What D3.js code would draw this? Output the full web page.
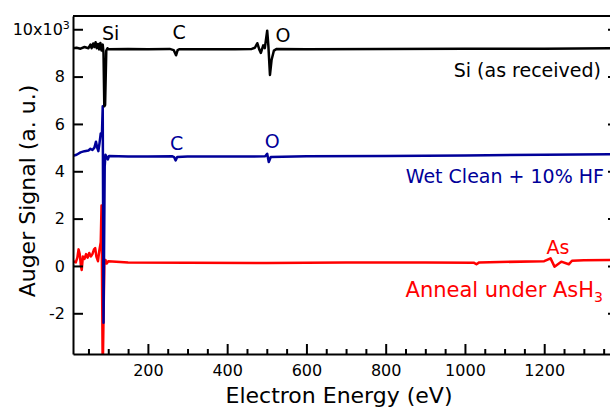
<!DOCTYPE html>
<html>
<head>
<meta charset="utf-8">
<script src="https://cdn.jsdelivr.net/npm/d3@7"></script>
<style>
  body { margin: 0; background: #fff; }
  svg { display: block; font-family: "DejaVu Sans", sans-serif; }
  .axis path, .axis line { stroke: #000; stroke-width: 2; }
  .axis text { font-size: 16px; fill: #000; font-family: "DejaVu Sans", sans-serif; }
</style>
</head>
<body>
<div id="chart"></div>
<script>
// spectra: [energy (eV), signal (x10^3)]
let siReceived = [
    [11, 9.2], [20, 9.22], [30, 9.18], [40, 9.25], [50, 9.2], [55, 9.35], [58, 9.2], [62, 9.4],
    [65, 9.25], [68, 9.45], [71, 9.2], [74, 9.38], [77, 9.15], [80, 9.42], [83, 9.1], [86, 9.35],
    [88, 9.0], [90, 6.75], [92, 6.8], [95, 9.1], [98, 9.2], [100, 9.15], [150, 9.17], [200, 9.15],
    [255, 9.17], [265, 9.12], [271, 8.9], [275, 9.12], [280, 9.16], [350, 9.15], [420, 9.16],
    [462, 9.17], [470, 9.22], [476, 9.41], [481, 9.15], [485, 9.0], [491, 9.32], [495, 9.2],
    [501, 9.94], [504, 9.3], [508, 8.07], [512, 8.7], [518, 9.1], [525, 9.17], [600, 9.16],
    [800, 9.17], [1000, 9.18], [1200, 9.18], [1366, 9.2]
];
let wetClean = [
    [11, 4.65], [20, 4.7], [30, 4.8], [40, 4.85], [50, 4.88], [55, 4.95], [60, 4.9], [65, 5.0],
    [69, 5.25], [72, 5.0], [75, 4.85], [78, 5.2], [81, 5.6], [84, 5.55], [86, 6.75], [88, -2.4],
    [91, 4.2], [93, 4.7], [96, 4.6], [99, 4.5], [102, 4.65], [150, 4.62], [200, 4.62], [262, 4.63],
    [266, 4.6], [270, 4.46], [274, 4.6], [300, 4.62], [400, 4.62], [496, 4.63], [501, 4.74],
    [505, 4.39], [510, 4.6], [600, 4.63], [800, 4.65], [1000, 4.67], [1200, 4.7], [1366, 4.72]
];
let annealAsH3 = [
    [11, 0.2], [18, 0.15], [22, 0.35], [25, 0.7], [28, 0.5], [31, 0.0], [33, -0.17], [36, 0.4],
    [40, 0.3], [44, 0.5], [48, 0.35], [52, 0.55], [56, 0.4], [60, 0.5], [64, 0.7], [67, 0.75],
    [70, 0.4], [74, 0.2], [77, 0.6], [81, 1.0], [83, 2.55], [86, -4.5], [90, 0.05], [93, 0.25],
    [96, 0.1], [100, 0.2], [150, 0.15], [300, 0.13], [500, 0.12], [700, 0.15], [900, 0.15],
    [1022, 0.14], [1029, 0.07], [1036, 0.15], [1200, 0.2], [1216, 0.32], [1226, -0.03],
    [1243, 0.18], [1262, 0.07], [1270, 0.22], [1300, 0.24], [1366, 0.25]
];

let xMajor = [200, 400, 600, 800, 1000, 1200];
let xMinor = [50, 100, 150, 250, 300, 350, 450, 500, 550, 650, 700, 750, 850, 900, 950,
              1050, 1100, 1150, 1250, 1300, 1350];
let yMajor = [-2, 0, 2, 4, 6, 8, 10];

let seriesColors = ["#ff0000", "#000099", "#000000"];

let width = 610, height = 414;
let margin = { top: 16, right: 0, bottom: 60, left: 73 };

let svg = d3.select("#chart").append("svg")
    .attr("width", width)
    .attr("height", height);

let x = d3.scaleLinear().domain([11, 1366]).range([margin.left, width - margin.right]);
let y = d3.scaleLinear().domain([-3.72, 10.56]).range([height - margin.bottom, margin.top]);

svg.append("defs").append("clipPath").attr("id", "plotclip")
    .append("rect")
    .attr("x", margin.left).attr("y", margin.top)
    .attr("width", width - margin.left - margin.right)
    .attr("height", height - margin.bottom - margin.top);

let line = d3.line()
    .x(function(d) { return x(d[0]); })
    .y(function(d) { return y(d[1]); });

let plot = svg.append("g").attr("clip-path", "url(#plotclip)");
[annealAsH3, wetClean, siReceived].forEach(function(s, i) {
    plot.append("path")
        .datum(s)
        .attr("d", line)
        .attr("fill", "none")
        .attr("stroke", seriesColors[i])
        .attr("stroke-width", 2.5)
        .attr("stroke-linejoin", "round");
});

// top frame
svg.append("line")
    .attr("x1", x.range()[0]).attr("x2", x.range()[1])
    .attr("y1", y.range()[1]).attr("y2", y.range()[1])
    .attr("stroke", "#000").attr("stroke-width", 2);

// right mirror ticks
svg.append("g").attr("class", "axis")
    .attr("transform", "translate(" + (x.range()[1] + 1) + ",0)")
    .call(d3.axisRight(y).tickValues(yMajor).tickSize(-3).tickSizeOuter(0).tickFormat(""))
    .select(".domain").remove();

let xAxis = svg.append("g").attr("class", "axis")
    .attr("transform", "translate(0," + y.range()[0] + ")")
    .call(d3.axisBottom(x).tickValues(xMajor).tickSize(-10).tickSizeOuter(0).tickPadding(11)
        .tickFormat(d3.format("d")));

svg.append("g").attr("class", "axis")
    .attr("transform", "translate(0," + y.range()[0] + ")")
    .call(d3.axisBottom(x).tickValues(xMinor).tickSize(-5).tickSizeOuter(0).tickFormat(""))
    .select(".domain").remove();

let yAxis = svg.append("g").attr("class", "axis")
    .attr("transform", "translate(" + x.range()[0] + ",0)")
    .call(d3.axisLeft(y).tickValues(yMajor).tickSize(-10).tickSizeOuter(0).tickPadding(8)
        .tickFormat(function(d) { return d === 10 ? "10x10" : String(d); }));

yAxis.selectAll(".tick text")
    .filter(function(d) { return d === 10; })
    .attr("dx", "0.3em")
    .append("tspan")
    .attr("dy", "-0.55em")
    .attr("font-size", "11px")
    .text("3");

// axis titles
svg.append("text")
    .attr("x", 339).attr("y", 403)
    .attr("text-anchor", "middle")
    .attr("font-size", "22px")
    .text("Electron Energy (eV)");

svg.append("text")
    .attr("transform", "translate(35,191) rotate(-90)")
    .attr("text-anchor", "middle")
    .attr("font-size", "22px")
    .text("Auger Signal (a. u.)");

// peak and trace labels
let labels = [
    { t: "Si", e: 84, v: 9.55, c: "#000000", a: "start", dx: 0 },
    { t: "C", e: 262, v: 9.6, c: "#000000", a: "start", dx: 0 },
    { t: "O", e: 522, v: 9.45, c: "#000000", a: "start", dx: 0 },
    { t: "Si (as received)", e: 1366, v: 8.0, c: "#000000", a: "end", dx: -9 },
    { t: "C", e: 256, v: 4.9, c: "#000099", a: "start", dx: 0 },
    { t: "O", e: 495, v: 4.98, c: "#000099", a: "start", dx: 0 },
    { t: "Wet Clean + 10% HF", e: 1366, v: 3.5, c: "#000099", a: "end", dx: -6 },
    { t: "As", e: 1206, v: 0.5, c: "#ff0000", a: "start", dx: 0 }
];
labels.forEach(function(l) {
    svg.append("text")
        .attr("x", x(l.e) + l.dx).attr("y", y(l.v))
        .attr("text-anchor", l.a)
        .attr("font-size", "19px")
        .attr("fill", l.c)
        .text(l.t);
});

let anneal = svg.append("text")
    .attr("x", x(1366) - 7).attr("y", y(-1.3))
    .attr("text-anchor", "end")
    .attr("font-size", "21px")
    .attr("fill", "#ff0000")
    .text("Anneal under AsH");
anneal.append("tspan")
    .attr("dy", "5")
    .attr("font-size", "14px")
    .text("3");
</script>
</body>
</html>
